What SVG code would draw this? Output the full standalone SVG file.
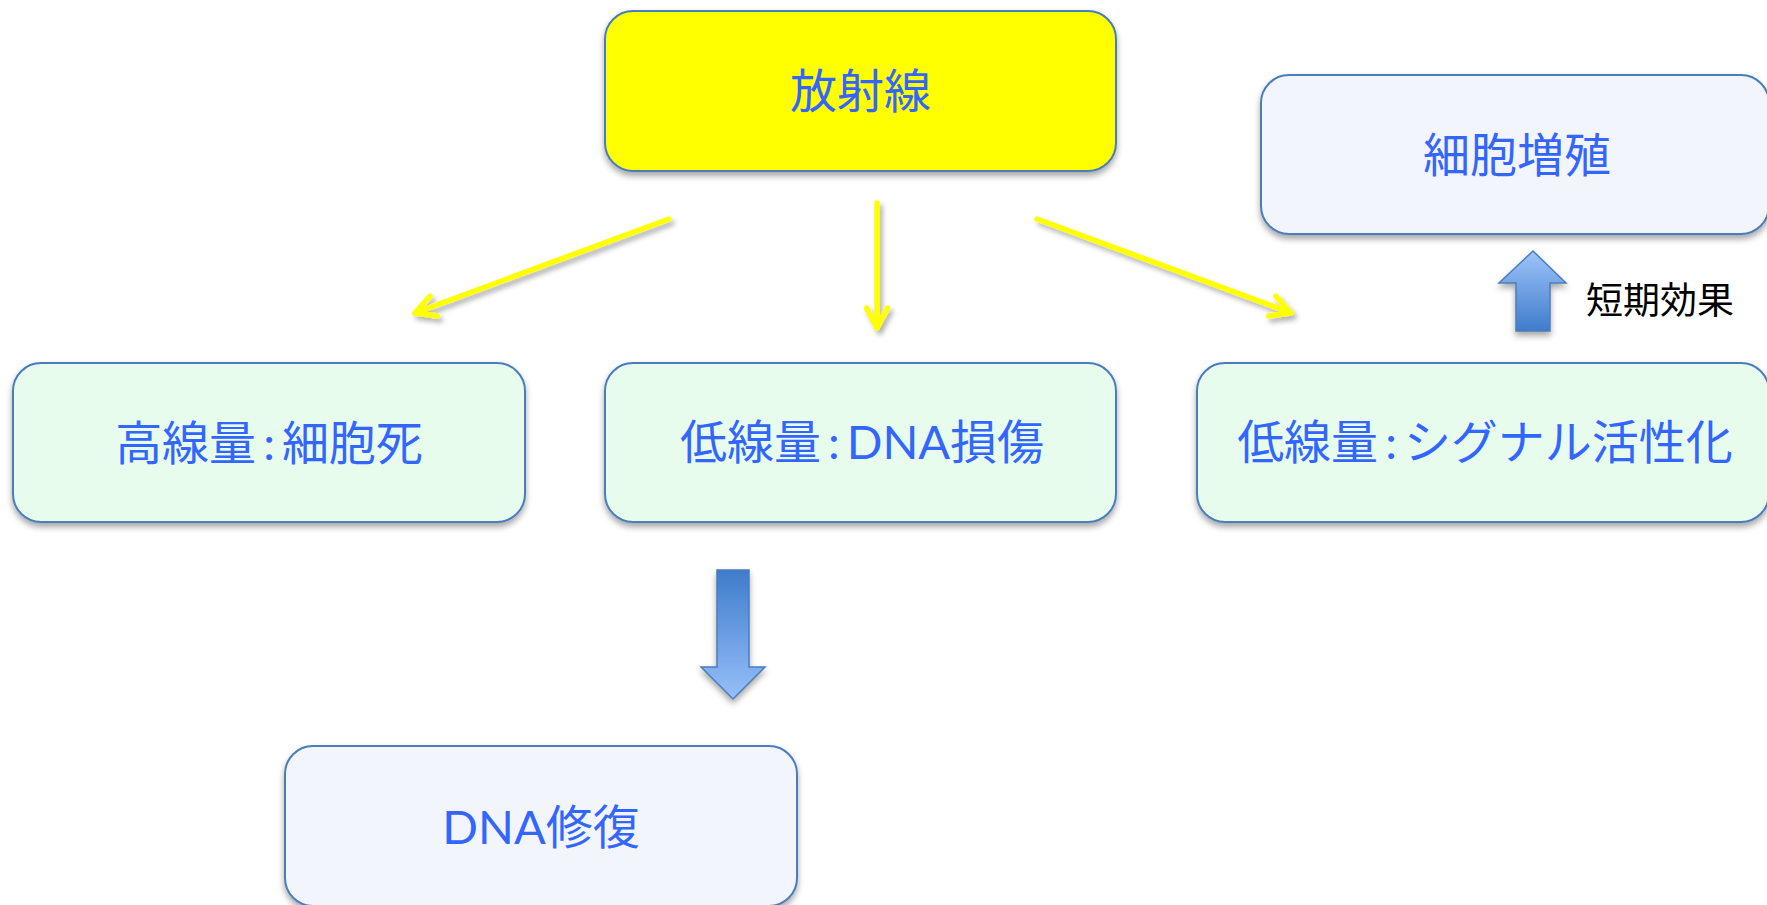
<svg xmlns="http://www.w3.org/2000/svg" width="1767" height="905" viewBox="0 0 1767 905">
<style>
.box{stroke:#4A7EBB;stroke-width:2}
.yel{fill:#FFFF00}
.grn{fill:#E8FCEE}
.lav{fill:#F3F5FD}
.lbl{font-family:"Lato","Noto Sans CJK JP",sans-serif;font-size:47px;fill:#3366FF;text-anchor:middle}
.note{font-family:"Noto Sans CJK JP",sans-serif;font-size:37px;fill:#000000}
.conn{fill:none;stroke:#FFFF00;stroke-width:5.5;stroke-linecap:round}
.barrow{stroke:#4A7EBB;stroke-width:1.5}
</style>
<defs>
<filter id="sh" x="-10%" y="-10%" width="120%" height="130%">
<feDropShadow dx="0" dy="4" stdDeviation="3" flood-color="#000" flood-opacity="0.35"/>
</filter>
<filter id="shy" x="-20%" y="-20%" width="140%" height="140%">
<feDropShadow dx="3" dy="4" stdDeviation="2.5" flood-color="#000" flood-opacity="0.3"/>
</filter>
<linearGradient id="gdown" x1="0" y1="0" x2="0" y2="1">
<stop offset="0" stop-color="#3F7CCB"/>
<stop offset="1" stop-color="#96BFF9"/>
</linearGradient>
<linearGradient id="gup" x1="0" y1="0" x2="0" y2="1">
<stop offset="0" stop-color="#9EC4FA"/>
<stop offset="1" stop-color="#3F7CCB"/>
</linearGradient>
<marker id="chev" viewBox="-24 -14 28 28" markerWidth="28" markerHeight="28" refX="0" refY="0" orient="auto" markerUnits="userSpaceOnUse">
<path d="M-20,-10.5 L0,0 L-20,10.5" fill="none" stroke="#FFFF00" stroke-width="5.5" stroke-linecap="round" stroke-linejoin="round"/>
</marker>
</defs>

<g id="connectors">
<g filter="url(#shy)">
<line class="conn" x1="669" y1="219" x2="415" y2="313" marker-end="url(#chev)"/>
<line class="conn" x1="877" y1="203" x2="877" y2="328" marker-end="url(#chev)"/>
<line class="conn" x1="1037" y1="219" x2="1291" y2="313" marker-end="url(#chev)"/>
</g>
<polygon class="barrow" fill="url(#gdown)" filter="url(#sh)" points="717,570 749,570 749,667 765,667 733,699 701,667 717,667"/>
<polygon class="barrow" fill="url(#gup)" filter="url(#sh)" points="1533,251 1566,283 1550,283 1550,331 1516,331 1516,283 1499,283"/>
<text class="note" x="1586" y="314">短期効果</text>
</g>

<g id="n-radiation">
<rect class="box yel" filter="url(#sh)" x="605" y="11" width="511" height="160" rx="28"/>
<text class="lbl" x="860.5" y="108">放射線</text>
</g>

<g id="n-proliferation">
<rect class="box lav" filter="url(#sh)" x="1261" y="75" width="508" height="159" rx="28"/>
<text class="lbl" x="1517" y="172">細胞増殖</text>
</g>

<g id="n-high">
<rect class="box grn" filter="url(#sh)" x="13" y="363" width="512" height="159" rx="28"/>
<text class="lbl" x="269" y="460">高線量<tspan dx="7">:</tspan><tspan dx="7">細胞死</tspan></text>
</g>

<g id="n-damage">
<rect class="box grn" filter="url(#sh)" x="605" y="363" width="511" height="159" rx="28"/>
<text class="lbl" x="862" y="459">低線量<tspan dx="7">:</tspan><tspan dx="7">DNA損傷</tspan></text>
</g>

<g id="n-signal">
<rect class="box grn" filter="url(#sh)" x="1197" y="363" width="572" height="159" rx="28"/>
<text class="lbl" x="1485" y="459">低線量<tspan dx="7">:</tspan><tspan dx="7">シグナル活性化</tspan></text>
</g>

<g id="n-repair">
<rect class="box lav" filter="url(#sh)" x="285" y="746" width="512" height="160" rx="28"/>
<text class="lbl" x="541" y="844">DNA修復</text>
</g>
</svg>
